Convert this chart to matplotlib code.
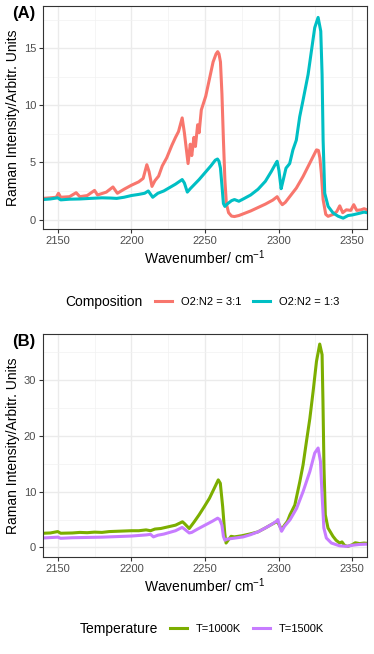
import matplotlib
matplotlib.use("Agg")
import matplotlib.pyplot as plt
from matplotlib.lines import Line2D
from matplotlib.ticker import MultipleLocator

plt.rcParams['font.family'] = ['Liberation Sans', 'DejaVu Sans']
plt.rcParams['mathtext.fontset'] = 'custom'
plt.rcParams['mathtext.rm'] = 'Liberation Sans'
plt.rcParams['mathtext.it'] = 'Liberation Sans:italic'
plt.rcParams['mathtext.bf'] = 'Liberation Sans:bold'

# ---------------- Panel A data (Composition) ----------------
wn_a_31 = [2140, 2145, 2149, 2150.5, 2152, 2158, 2162.5, 2165, 2170, 2175, 2177, 2183,
           2187.5, 2190.5, 2195, 2200, 2205, 2208, 2210.5, 2212, 2214, 2216, 2218.5, 2221,
           2224, 2227.5, 2230, 2232, 2234.5, 2236, 2238.5, 2240, 2241, 2242.5, 2243.5, 2245,
           2246, 2247.5, 2250.5, 2253, 2255.5, 2257.5, 2258.6, 2259.5, 2260.5, 2261.5, 2262.5,
           2263.5, 2264.5, 2266, 2268, 2270, 2273, 2277, 2281, 2286, 2291, 2296, 2299, 2301,
           2302.5, 2304.5, 2307.5, 2312, 2316.5, 2321, 2325.7, 2327, 2328, 2329, 2330.2, 2332,
           2333.6, 2337, 2339.5, 2341.5, 2343.5, 2346, 2349, 2351, 2353, 2356, 2358, 2360]
int_a_31 = [1.85, 1.9, 1.95, 2.3, 1.95, 2.0, 2.35, 2.0, 2.1, 2.55, 2.15, 2.4,
            2.85, 2.3, 2.65, 3.0, 3.3, 3.6, 4.8, 4.2, 2.9, 3.4, 3.8, 4.7,
            5.4, 6.5, 7.2, 7.7, 8.9, 7.6, 4.9, 6.6, 5.6, 7.2, 6.4, 8.3,
            7.6, 9.6, 10.8, 12.3, 13.8, 14.5, 14.7, 14.5, 13.8, 11.0, 7.0,
            3.5, 1.4, 0.6, 0.3, 0.26, 0.35, 0.55, 0.75, 1.05, 1.35, 1.7, 2.0, 1.55,
            1.3, 1.5, 2.0, 2.75, 3.75, 4.9, 6.1, 6.05, 5.4, 4.05, 1.75, 0.45,
            0.28, 0.45, 0.7, 1.2, 0.6, 0.85, 0.8, 1.3, 0.8, 0.85, 0.95, 0.85]

wn_a_13 = [2140, 2145, 2150, 2152, 2158, 2165, 2172, 2180, 2186, 2190, 2195, 2200, 2205,
           2209, 2211.5, 2214.5, 2218, 2222, 2226, 2230, 2234.5, 2236, 2238, 2240, 2243,
           2246, 2250, 2254, 2257, 2258.5, 2259.5, 2260.5, 2261.5, 2262.5, 2263.5, 2265,
           2268, 2270, 2273, 2276, 2281, 2286, 2291, 2295, 2298, 2299, 2300.2, 2301.7,
           2303, 2305, 2307.5, 2309.7, 2312, 2314.3, 2316.5, 2320, 2322.3, 2324.5, 2326.8,
           2328.6, 2329.5, 2330.2, 2331.3, 2333.6, 2337, 2340.4, 2343.8, 2347.2, 2350,
           2355, 2358, 2360]
int_a_13 = [1.75, 1.8, 1.9, 1.72, 1.78, 1.8, 1.85, 1.9, 1.88, 1.85, 1.95, 2.1, 2.2,
            2.3, 2.5, 1.95, 2.3, 2.5, 2.8, 3.1, 3.5, 3.2, 2.4, 2.7, 3.1,
            3.5, 4.1, 4.7, 5.2, 5.3, 5.1, 4.5, 3.0, 1.4, 1.15, 1.35,
            1.65, 1.75, 1.6, 1.8, 2.15, 2.65, 3.35, 4.2, 4.9, 5.1, 4.3, 2.7,
            3.4, 4.5, 4.9, 6.1, 6.95, 9.0, 10.4, 12.7, 14.8, 16.8, 17.7,
            16.5, 12.7, 6.95, 2.3, 1.15, 0.57, 0.29, 0.12, 0.35, 0.4,
            0.55, 0.65, 0.6]

# ---------------- Panel B data (Temperature) ----------------
wn_b_1000 = [2140, 2145, 2150, 2152, 2160, 2165, 2170, 2175, 2180, 2185, 2190, 2195, 2200,
             2205, 2210, 2213, 2216, 2220, 2225, 2230, 2234.7, 2236, 2239.3, 2242.7, 2246,
             2249.5, 2253, 2256.3, 2259, 2260.4, 2262, 2263.4, 2264.3, 2267.7, 2270, 2275,
             2281, 2286, 2291, 2295, 2299, 2300.5, 2302, 2304, 2306, 2307.7, 2311, 2314.4,
             2316.6, 2318.9, 2321.2, 2323.4, 2325.7, 2327.9, 2329.5, 2330.1, 2330.8, 2331.7,
             2333.5, 2336.9, 2339, 2341.4, 2343, 2344.8, 2347, 2350, 2352, 2355, 2358, 2360]
int_b_1000 = [2.55, 2.6, 2.85, 2.55, 2.6, 2.7, 2.65, 2.75, 2.7, 2.85, 2.9, 2.95, 3.0,
              3.0, 3.15, 3.0, 3.3, 3.4, 3.7, 4.0, 4.6, 4.3, 3.4, 4.6, 5.85,
              7.3, 8.8, 10.6, 12.1, 11.5, 7.3, 2.6, 0.8, 2.0, 1.9, 2.1,
              2.45, 2.8, 3.5, 4.1, 4.65, 4.0, 3.2, 4.0, 4.7, 5.85, 7.6, 11.8,
              14.8, 19.0, 23.1, 27.9, 33.3, 36.4, 34.5, 26.1, 14.2, 5.85,
              3.5, 2.0, 1.3, 0.8, 1.0, 0.35, 0.2, 0.5, 0.85, 0.7, 0.8, 0.75]

wn_b_1500 = [2140, 2150, 2152, 2160, 2170, 2180, 2190, 2200, 2210, 2213, 2215, 2218, 2222,
             2226, 2230, 2234.5, 2236, 2239.3, 2241, 2245, 2250, 2255, 2258.6, 2260, 2261.5,
             2262.5, 2263.5, 2265, 2268, 2272, 2276, 2281, 2286, 2291, 2295, 2298.5, 2299.5,
             2300.5, 2302, 2304, 2307.7, 2312.2, 2316.6, 2321.2, 2324.5, 2326.8, 2328.4,
             2329.5, 2330.7, 2332.4, 2335.8, 2341.4, 2346, 2350, 2355, 2360]
int_b_1500 = [1.7, 1.85, 1.65, 1.75, 1.8, 1.85, 1.95, 2.05, 2.25, 2.35, 1.9, 2.2, 2.4,
              2.7, 3.0, 3.6, 3.3, 2.6, 2.7, 3.3, 4.0, 4.7, 5.25, 5.0, 4.0,
              2.0, 1.3, 1.5, 1.6, 1.75, 1.9, 2.3, 2.8, 3.5, 4.1, 4.7, 5.0,
              4.0, 2.9, 3.8, 4.95, 7.0, 10.0, 13.6, 16.9, 17.8, 15.4,
              9.4, 3.5, 1.7, 0.8, 0.3, 0.2, 0.4, 0.55, 0.6]

labels_a = ["O2:N2 = 3:1", "O2:N2 = 1:3"]
labels_b = ["T=1000K", "T=1500K"]
colors_a = ["#F8766D", "#00BFC4"]
colors_b = ["#7CAE00", "#C77CFF"]

W, H = 374, 654
fig = plt.figure(figsize=(W / 100, H / 100), dpi=100)


def ax_rect(left, top, right, bottom):
    return [left / W, 1 - bottom / H, (right - left) / W, (bottom - top) / H]


def style(ax, ymajor, yminor, ymax):
    ax.set_xlim(2140, 2360)
    ax.set_ylim(-0.05 * ymax, 1.05 * ymax)
    ax.xaxis.set_major_locator(MultipleLocator(50))
    ax.xaxis.set_minor_locator(MultipleLocator(25))
    ax.yaxis.set_major_locator(MultipleLocator(ymajor))
    ax.yaxis.set_minor_locator(MultipleLocator(yminor))
    ax.grid(which='major', color='#EBEBEB', lw=1.0, zorder=0)
    ax.grid(which='minor', color='#F2F2F2', lw=0.5, zorder=0)
    ax.set_axisbelow(True)
    for s in ax.spines.values():
        s.set_color('#333333')
        s.set_linewidth(0.8)
    ax.tick_params(which='major', length=3, width=0.8, color='#333333',
                   labelsize=8, labelcolor='#4D4D4D', pad=2)
    ax.tick_params(which='minor', length=0)
    ax.set_xlabel("Wavenumber/ cm$^{-1}$", fontsize=10, labelpad=2)
    ax.set_ylabel("Raman Intensity/Arbitr. Units", fontsize=10, labelpad=3)


# Panel A
axA = fig.add_axes(ax_rect(43, 6, 367, 229))
axA.plot(wn_a_31, int_a_31, color=colors_a[0], lw=2.2, solid_joinstyle='round')
axA.plot(wn_a_13, int_a_13, color=colors_a[1], lw=2.2, solid_joinstyle='round')
style(axA, 5, 2.5, 17.75)
axA.set_ylim(-0.83, 18.7)

# Panel B
axB = fig.add_axes(ax_rect(43, 334, 367, 557))
axB.plot(wn_b_1000, int_b_1000, color=colors_b[0], lw=2.2, solid_joinstyle='round')
axB.plot(wn_b_1500, int_b_1500, color=colors_b[1], lw=2.2, solid_joinstyle='round')
style(axB, 10, 5, 36.4)
axB.set_ylim(-1.7, 38.2)

# Tags
fig.text(12 / W, 1 - 6 / H, "(A)", fontsize=12, fontweight='bold', va='top', ha='left')
fig.text(12 / W, 1 - 334 / H, "(B)", fontsize=12, fontweight='bold', va='top', ha='left')


def legend(title, title_x, key_x, yc, labels, colors):
    fig.text(title_x / W, 1 - yc / H, title, fontsize=10, va='center', ha='left')
    handles = [Line2D([], [], color=c, lw=2.2) for c in colors]
    fig.legend(handles, labels, loc='center left',
               bbox_to_anchor=(key_x / W, 1 - yc / H), ncol=2, frameon=False,
               fontsize=8, handlelength=1.55, handletextpad=0.75,
               columnspacing=1.1, borderpad=0, borderaxespad=0)


legend("Composition", 65, 155, 302, labels_a, colors_a)
legend("Temperature", 80, 170, 629, labels_b, colors_b)

fig.savefig("out.png", dpi=100)
